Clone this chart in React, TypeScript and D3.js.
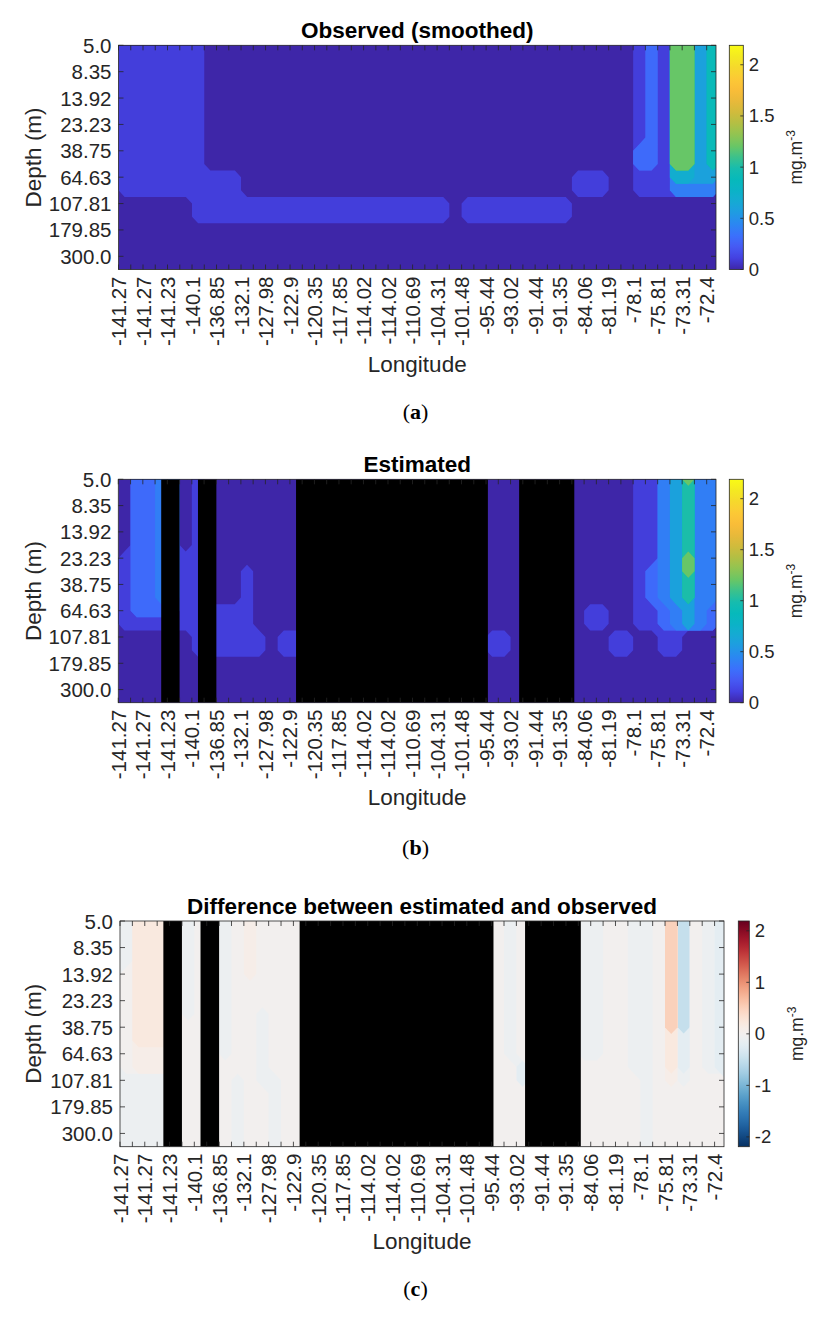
import * as d3 from "d3";

// Profile longitudes, labelled on every second tick
const longitudeLabels = [
  "-141.27", "-141.27", "-141.23", "-140.1", "-136.85", "-132.1", "-127.98",
  "-122.9", "-120.35", "-117.85", "-114.02", "-114.02", "-110.69", "-104.31",
  "-101.48", "-95.44", "-93.02", "-91.44", "-91.35", "-84.06", "-81.19",
  "-78.1", "-75.81", "-73.31", "-72.4",
];

// Depth levels, labelled on every second level
const depthLabels = ["5.0", "8.35", "13.92", "23.23", "38.75", "64.63", "107.81", "179.85", "300.0"];

// One string per depth level (top = 5 m), one cell per profile, run-length coded ("c*n").
// Chlorophyll cells: base-36 digit / 20 (mg.m-3)
const observedRows = [
  "3*7 1*35 3 6 3 p p d j",
  "3*7 1*35 3 6 3 p p d j",
  "3*7 1*35 3 6 3 p p d j",
  "3*7 1*35 3 6 3 p p d j",
  "3*7 1*35 3 6 3 p p d j",
  "3*7 1*35 3 6 3 p p d j",
  "3*7 1*35 3 6 3 p p d j",
  "3*7 1*35 3 6 3 p p d j",
  "3*7 1*35 6 6 3 p p d j",
  "3*7 1*35 6 6 3 p p d j",
  "3*10 1*27 3*3 1*2 3*3 e e c c",
  "3*10 1*27 3*3 1*2 3*3 8*4",
  "1*6 3*21 1 3*9 1*12",
  "1*6 3*21 1 3*9 1*12",
  "1*49",
  "1*49",
  "1*49",
  "1*49",
];

const estimatedRows = [
  "1 6*2 9*2 1 3 1*35 3*2 9 d o 9*2",
  "1 6*2 9*2 1 3 1*35 3*2 9 d k 9*2",
  "1 6*2 9*2 1 3 1*35 3*2 9 d k 9*2",
  "1 6*2 9*2 1 3 1*35 3*2 9 d k 9*2",
  "1 6*2 9*2 1 3 1*35 3*2 9 d k 9*2",
  "1 6*2 9*2 1 3 1*35 3*2 9 d k 9*2",
  "3 6*2 9*2 3 3 1*35 3*2 9 d o 9*2",
  "3 6*2 9*2 3 3 1*3 3 1*31 3 6 9 d o 9*2",
  "3 6*2 9*2 3 3 1*3 3 1*31 3 6 9 d k 9*2",
  "3 6*2 9*2 3 3 1*3 3 1*31 3 6 9 d k 9*2",
  "3 6*4 3*6 1*27 3*2 1*2 3*2 6 9 d 8 6",
  "3*11 1*27 3*2 1*2 3*2 6 9 d 8 6",
  "1*6 3*6 1 3*2 1*15 3*2 1*8 3*2 1*2 3*2 1*3",
  "1*6 3*6 1 3*2 1*15 3*2 1*8 3*2 1*2 3*2 1*3",
  "1*49",
  "1*49",
  "1*49",
  "1*49",
];

// Difference cells: (base-36 digit - 18) / 20 (mg.m-3)
const differenceRows = [
  "h n*4 h j*2 h j k j*20 h j*5 h*2 j*2 h*2 j t 9 j h f",
  "h n*4 h j*2 h j k j*20 h j*5 h*2 j*2 h*2 j t 9 j h f",
  "h n*4 h j*2 h j k j*20 h j*5 h*2 j*2 h*2 j t 9 j h f",
  "h n*4 h j*2 h j k j*20 h j*5 h*2 j*2 h*2 j t 9 j h f",
  "j n*4 h j*2 h j k j*20 h j*5 h*2 j*2 h*2 j t 9 j h f",
  "j n*4 h j*2 h j*22 h j*5 h*2 j*2 h*2 j t 9 j h f",
  "j n*4 h j*2 h j*22 h j*5 h*2 j*2 h*2 j t 9 j h f",
  "j n*4 h j*2 h j*2 h j*19 h j*5 h*2 j*2 h*2 j t 9 j h f",
  "j n*4 j*3 h j*2 h j*19 h j*5 h*2 j*2 h*2 j t 9 j h f",
  "j n*4 j*3 h j*2 h j*19 h j*5 h*2 j*2 h*2 j m f j h f",
  "j k*4 j*3 h j*2 h j*19 h j*5 h*2 j*2 h*2 j m f j h f",
  "j k*4 j*6 h j*20 f j*8 h*2 j m f j h f",
  "h*5 j*4 h j h*2 j*19 f j*9 h j k h j*3",
  "h*5 j*4 h j*2 h j*29 h j*6",
  "h*5 j*4 h j*2 h j*29 h j*6",
  "h*5 j*4 h j*2 h j*29 h j*6",
  "h*5 j*4 h j*2 h j*29 h j*6",
  "h*5 j*4 h j*2 h j*29 h j*6",
];

// Profiles with no estimate, as [from, to] in tick units
const missingProfiles: [number, number][] = [[3.5, 5], [6.5, 8], [14.5, 30.15], [32.7, 37.2]];

const chlTicks = [0, 0.5, 1, 1.5, 2];
const diffTicks = [-2, -1, 0, 1, 2];
const colorLimit = 2.19;
const xLimit = 48.76;

const parulaStops = [
  "#3e26a8", "#4440e0", "#4659f3", "#3b70fc", "#2c86f2", "#209ae3", "#16a9d4",
  "#0bb2c7", "#06b9bb", "#16bcae", "#3bc18c", "#69c665", "#90c452", "#b2bf44",
  "#d0bb3c", "#e8b93a", "#f9bd38", "#fcc935", "#f6d82c", "#f4e921", "#f9fb15",
];
const parula = d3.piecewise(d3.interpolateRgb, parulaStops);
const chlColor = (v: number) => parula(Math.max(0, Math.min(1, v / colorLimit)));
const diffColor = (v: number) => d3.interpolateRdBu(0.5 - v / (2 * colorLimit));

const SANS = "'Liberation Sans', Arial, Helvetica, sans-serif";
const INK = "#262626";

function expand(rows: string[]): string[] {
  return rows.map((row) =>
    row
      .split(" ")
      .map((tok) => {
        const [c, n] = tok.split("*");
        return c.repeat(n ? +n : 1);
      })
      .join(""),
  );
}

function decodeGrid(rows: string[], offset: number) {
  const lines = expand(rows);
  return {
    nx: lines[0].length,
    ny: lines.length,
    values: lines.flatMap((l) => Array.from(l, (c) => (parseInt(c, 36) - offset) / 20)),
  };
}

interface PanelSpec {
  id: string;
  title: string;
  rows: string[];
  offset: number;
  levels: number[];
  color: (v: number) => string;
  gaps: [number, number][];
  left: number;
  right: number;
  top: number;
  bottom: number;
  cbLeft: number;
  cbWidth: number;
  cbDomain: [number, number];
  cbTicks: number[];
  cbLabelX: number;
  captionY: number;
}

const chlLevels = d3.range(0, 22).map((i) => i / 10);
const diffLevels = d3.range(-22, 22).map((i) => i / 10);

const panels: PanelSpec[] = [
  {
    id: "a", title: "Observed (smoothed)", rows: observedRows, offset: 0,
    levels: chlLevels, color: chlColor, gaps: [],
    left: 118.5, right: 716, top: 45.3, bottom: 269.5,
    cbLeft: 729.3, cbWidth: 14, cbDomain: [0, colorLimit], cbTicks: chlTicks,
    cbLabelX: 802, captionY: 419,
  },
  {
    id: "b", title: "Estimated", rows: estimatedRows, offset: 0,
    levels: chlLevels, color: chlColor, gaps: missingProfiles,
    left: 118.3, right: 716, top: 479.3, bottom: 702.7,
    cbLeft: 729.3, cbWidth: 14, cbDomain: [0, colorLimit], cbTicks: chlTicks,
    cbLabelX: 802, captionY: 855,
  },
  {
    id: "c", title: "Difference between estimated and observed", rows: differenceRows, offset: 18,
    levels: diffLevels, color: diffColor, gaps: missingProfiles,
    left: 120, right: 724, top: 921, bottom: 1146.7,
    cbLeft: 738.3, cbWidth: 11, cbDomain: [-colorLimit, colorLimit], cbTicks: diffTicks,
    cbLabelX: 803, captionY: 1296,
  },
];

function Panel({ p }: { p: PanelSpec }) {
  const grid = decodeGrid(p.rows, p.offset);
  const x = d3.scaleLinear().domain([0, xLimit]).range([p.left, p.right]);
  const y = d3.scaleLinear().domain([0, grid.ny - 1]).range([p.top, p.bottom]);
  const bands = d3.contours().size([grid.nx, grid.ny]).smooth(false).thresholds(p.levels)(grid.values);
  const path = d3.geoPath(
    d3.geoTransform({
      point(px: number, py: number) {
        // columns fill [k, k+1] in tick units; depth levels sit on their ticks
        this.stream.point(x(px), y(py - 0.5));
      },
    }),
  );
  const cb = d3.scaleLinear().domain(p.cbDomain).range([p.bottom, p.top]);
  const cbRight = p.cbLeft + p.cbWidth;
  const midX = (p.left + p.right) / 2;
  const midY = (p.top + p.bottom) / 2;
  const xTicks = d3.range(0, longitudeLabels.length * 2 - 1);
  const yTicks = d3.range(0, depthLabels.length * 2 - 1, 2);
  const gradStops = d3.range(0, 41).map((i) => i / 40);
  const [d0, d1] = p.cbDomain;

  return (
    <g>
      <defs>
        <clipPath id={`clip-${p.id}`}>
          <rect x={p.left} y={p.top} width={p.right - p.left} height={p.bottom - p.top} />
        </clipPath>
        <linearGradient id={`grad-${p.id}`} x1="0" y1="1" x2="0" y2="0">
          {gradStops.map((t) => (
            <stop key={t} offset={`${t * 100}%`} stopColor={p.color(d0 + t * (d1 - d0))} />
          ))}
        </linearGradient>
      </defs>

      <g clipPath={`url(#clip-${p.id})`}>
        {bands.map((b) => (
          <path key={b.value} d={path(b as any) || ""} fill={p.color(b.value)} />
        ))}
        {p.gaps.map(([a, b]) => (
          <rect key={a} x={x(a)} y={p.top} width={x(b) - x(a)} height={p.bottom - p.top} fill="#000" />
        ))}
      </g>

      {/* ticks, inward on all four sides */}
      {xTicks.map((k) => (
        <g key={`xt${k}`} stroke={INK} strokeWidth={0.8}>
          <line x1={x(k)} x2={x(k)} y1={p.bottom} y2={p.bottom - 5} />
          <line x1={x(k)} x2={x(k)} y1={p.top} y2={p.top + 5} />
        </g>
      ))}
      {yTicks.map((r) => (
        <g key={`yt${r}`} stroke={INK} strokeWidth={0.8}>
          <line x1={p.left} x2={p.left + 5} y1={y(r)} y2={y(r)} />
          <line x1={p.right} x2={p.right - 5} y1={y(r)} y2={y(r)} />
        </g>
      ))}
      <rect
        x={p.left}
        y={p.top}
        width={p.right - p.left}
        height={p.bottom - p.top}
        fill="none"
        stroke={INK}
        strokeWidth={0.8}
      />

      <g fontFamily={SANS} fontSize={20.5} fill={INK}>
        {yTicks.map((r, i) => (
          <text key={`yl${r}`} x={p.left - 7} y={y(r)} textAnchor="end" dominantBaseline="central">
            {depthLabels[i]}
          </text>
        ))}
        {longitudeLabels.map((lab, i) => (
          <text
            key={`xl${i}`}
            transform={`translate(${x(i * 2)},${p.bottom + 7}) rotate(-90)`}
            textAnchor="end"
            dominantBaseline="central"
          >
            {lab}
          </text>
        ))}
      </g>

      <text x={midX} y={p.top - 7.5} textAnchor="middle" fontFamily={SANS} fontSize={22.5} fontWeight="bold" fill="#000">
        {p.title}
      </text>
      <text x={midX} y={p.bottom + 102} textAnchor="middle" fontFamily={SANS} fontSize={22.5} fill={INK}>
        Longitude
      </text>
      <text
        transform={`translate(41,${midY}) rotate(-90)`}
        textAnchor="middle"
        fontFamily={SANS}
        fontSize={22.5}
        fill={INK}
      >
        Depth (m)
      </text>

      {/* colour bar */}
      <rect
        x={p.cbLeft}
        y={p.top}
        width={p.cbWidth}
        height={p.bottom - p.top}
        fill={`url(#grad-${p.id})`}
        stroke={INK}
        strokeWidth={0.8}
      />
      {p.cbTicks.map((t) => (
        <g key={`cb${t}`}>
          <line x1={cbRight - 3} x2={cbRight} y1={cb(t)} y2={cb(t)} stroke={INK} strokeWidth={0.8} />
          <text
            x={cbRight + 5.5}
            y={cb(t)}
            dominantBaseline="central"
            fontFamily={SANS}
            fontSize={18.5}
            fill={INK}
          >
            {t}
          </text>
        </g>
      ))}
      <text
        transform={`translate(${p.cbLabelX},${midY}) rotate(-90)`}
        textAnchor="middle"
        fontFamily={SANS}
        fontSize={17.5}
        fill={INK}
      >
        mg.m
        <tspan fontSize={12} dy={-7}>
          -3
        </tspan>
      </text>

      <text
        x={415.5}
        y={p.captionY}
        textAnchor="middle"
        fontFamily="'Liberation Serif', 'Times New Roman', serif"
        fontSize={22}
        fill="#000"
      >
        (<tspan fontWeight="bold">{p.id}</tspan>)
      </text>
    </g>
  );
}

export default function App() {
  return (
    <svg
      width={831}
      height={1318}
      viewBox="0 0 831 1318"
      style={{ position: "absolute", left: 0, top: 0, background: "#fff" }}
    >
      <rect width={831} height={1318} fill="#fff" />
      {panels.map((p) => (
        <Panel key={p.id} p={p} />
      ))}
    </svg>
  );
}
